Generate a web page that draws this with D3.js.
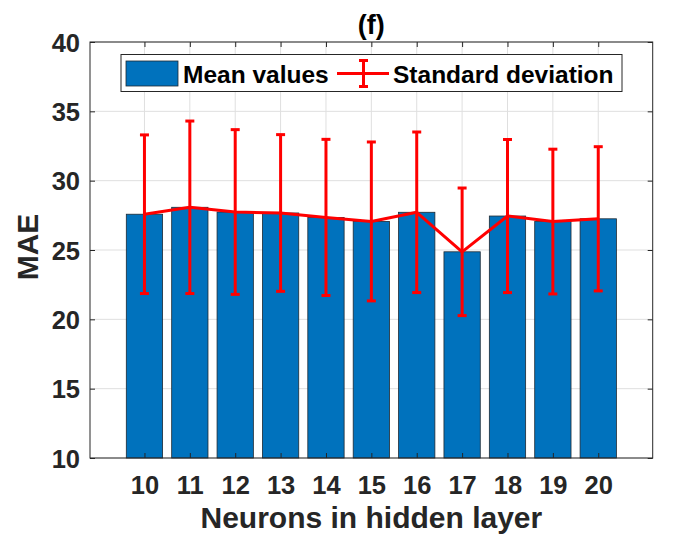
<!DOCTYPE html>
<html lang="en">
	<head>
		<meta charset="utf-8">
		<title>MAE vs neurons</title>
		<script type="text/javascript" src="https://cdn.jsdelivr.net/npm/d3@7"></script>
		<style type="text/css">
			body { margin: 0px; background: white; }
			text {
				font-family: "Liberation Sans", Arial, sans-serif;
				font-weight: bold;
			}
		</style>
	</head>
	<body>
		<div id="chart"></div>
		<script type="text/javascript">
			//Data
			var neurons = [10, 11, 12, 13, 14, 15, 16, 17, 18, 19, 20];
			var meanMAE = [27.58, 28.08, 27.74, 27.67, 27.35, 27.06, 27.72, 24.87, 27.45, 27.05, 27.25];
			var stdMAE  = [5.72, 6.22, 5.94, 5.65, 5.63, 5.73, 5.79, 4.60, 5.52, 5.22, 5.20];
			var yTicks  = [10, 15, 20, 25, 30, 35, 40];

			//Width and height
			var w = 675;
			var h = 544;
			//plot box (note: "top" is taken by window.top)
			var pLeft = 90, pRight = 652.7, pTop = 42, pBottom = 458;

			var svg = d3.select("#chart")
				.append("svg")
				.attr("width", w)
				.attr("height", h);

			var x = d3.scaleLinear().domain([8.8, 21.2]).range([pLeft, pRight]);
			var y = d3.scaleLinear().domain([10, 40]).range([pBottom, pTop]);
			var barW = x(0.8) - x(0);

			var axisColor = "#262626";

			//Grid
			var grid = svg.append("g").attr("class", "grid");
			grid.selectAll("line.gy")
				.data(yTicks)
				.enter()
				.append("line")
					.attr("x1", pLeft).attr("x2", pRight)
					.attr("y1", function(d) { return y(d); })
					.attr("y2", function(d) { return y(d); })
					.style("stroke", "#dfdfdf");
			grid.selectAll("line.gx")
				.data(neurons)
				.enter()
				.append("line")
					.attr("y1", pTop).attr("y2", pBottom)
					.attr("x1", function(d) { return x(d); })
					.attr("x2", function(d) { return x(d); })
					.style("stroke", "#dfdfdf");

			//Bars
			svg.selectAll("rect.bar")
				.data(neurons)
				.enter()
				.append("rect")
					.attr("class", "bar")
					.attr("x", function(d) { return x(d) - barW / 2; })
					.attr("width", barW)
					.attr("y", function(d, i) { return y(meanMAE[i]); })
					.attr("height", function(d, i) { return pBottom - y(meanMAE[i]); })
					.style("fill", "#0072BD")
					.style("stroke", "#1f2a33")
					.style("stroke-width", 0.8);

			//Axes (ticks pointing inward, on all sides)
			var yAxis = d3.axisLeft(y).tickValues(yTicks).tickSize(-5).tickPadding(10);
			var xAxis = d3.axisBottom(x).tickValues(neurons).tickSize(-5).tickPadding(18);

			var gy = svg.append("g")
				.attr("transform", "translate(" + pLeft + ",0)")
				.call(yAxis);
			var gx = svg.append("g")
				.attr("transform", "translate(0," + pBottom + ")")
				.call(xAxis);
			svg.append("g")
				.attr("transform", "translate(" + pRight + ",0)")
				.call(d3.axisRight(y).tickValues(yTicks).tickSize(-5).tickFormat(""));
			svg.append("g")
				.attr("transform", "translate(0," + pTop + ")")
				.call(d3.axisTop(x).tickValues(neurons).tickSize(-5).tickFormat(""));

			svg.selectAll(".domain").remove();
			svg.selectAll(".tick line").style("stroke", axisColor);
			svg.selectAll(".tick text")
				.style("font-size", "25.5px")
				.style("fill", axisColor);
			gy.selectAll(".tick text").attr("dy", "0.36em");

			//Box
			svg.append("rect")
				.attr("x", pLeft).attr("y", pTop)
				.attr("width", pRight - pLeft).attr("height", pBottom - pTop)
				.style("fill", "none")
				.style("stroke", axisColor)
				.style("stroke-width", 1);

			//Error bars and mean line
			var red = "#FF0000";
			var capW = 9;
			var line = d3.line()
				.x(function(d) { return x(d); })
				.y(function(d, i) { return y(meanMAE[i]); });

			var eb = svg.append("g").attr("class", "errorbars");
			eb.selectAll("line.v")
				.data(neurons)
				.enter()
				.append("line")
					.attr("x1", function(d) { return x(d); })
					.attr("x2", function(d) { return x(d); })
					.attr("y1", function(d, i) { return y(meanMAE[i] + stdMAE[i]); })
					.attr("y2", function(d, i) { return y(meanMAE[i] - stdMAE[i]); });
			eb.selectAll("line.top")
				.data(neurons)
				.enter()
				.append("line")
					.attr("x1", function(d) { return x(d) - capW / 2; })
					.attr("x2", function(d) { return x(d) + capW / 2; })
					.attr("y1", function(d, i) { return y(meanMAE[i] + stdMAE[i]); })
					.attr("y2", function(d, i) { return y(meanMAE[i] + stdMAE[i]); });
			eb.selectAll("line.bot")
				.data(neurons)
				.enter()
				.append("line")
					.attr("x1", function(d) { return x(d) - capW / 2; })
					.attr("x2", function(d) { return x(d) + capW / 2; })
					.attr("y1", function(d, i) { return y(meanMAE[i] - stdMAE[i]); })
					.attr("y2", function(d, i) { return y(meanMAE[i] - stdMAE[i]); });
			eb.selectAll("line")
				.style("stroke", red)
				.style("stroke-width", 3);

			svg.append("path")
				.datum(neurons)
				.attr("d", line)
				.style("fill", "none")
				.style("stroke", red)
				.style("stroke-width", 3)
				.style("stroke-linejoin", "round");

			//Legend
			var lg = svg.append("g").attr("class", "legend");
			lg.append("rect")
				.attr("x", 121).attr("y", 54.5)
				.attr("width", 501).attr("height", 37)
				.style("fill", "white")
				.style("stroke", axisColor)
				.style("stroke-width", 1);
			lg.append("rect")
				.attr("x", 126).attr("y", 61)
				.attr("width", 52).attr("height", 25)
				.style("fill", "#0072BD")
				.style("stroke", "#1f2a33")
				.style("stroke-width", 0.8);
			lg.append("text")
				.attr("x", 183).attr("y", 82.5)
				.style("font-size", "24.5px")
				.style("fill", "black")
				.text("Mean values");
			lg.append("line")
				.attr("x1", 337).attr("x2", 389)
				.attr("y1", 73.5).attr("y2", 73.5)
				.style("stroke", red).style("stroke-width", 3);
			lg.append("line")
				.attr("x1", 363.5).attr("x2", 363.5)
				.attr("y1", 60.5).attr("y2", 86.5)
				.style("stroke", red).style("stroke-width", 3);
			[60.5, 86.5].forEach(function(cy) {
				lg.append("line")
					.attr("x1", 363.5 - capW / 2).attr("x2", 363.5 + capW / 2)
					.attr("y1", cy).attr("y2", cy)
					.style("stroke", red).style("stroke-width", 3);
			});
			lg.append("text")
				.attr("x", 393).attr("y", 82.5)
				.style("font-size", "24.5px")
				.style("fill", "black")
				.text("Standard deviation");

			//Labels
			svg.append("text")
				.attr("x", (pLeft + pRight) / 2).attr("y", 34)
				.attr("text-anchor", "middle")
				.style("font-size", "27px")
				.style("fill", "black")
				.text("(f)");
			svg.append("text")
				.attr("x", (pLeft + pRight) / 2).attr("y", 528)
				.attr("text-anchor", "middle")
				.style("font-size", "30px")
				.style("fill", axisColor)
				.text("Neurons in hidden layer");
			svg.append("text")
				.attr("transform", "translate(38," + ((pTop + pBottom) / 2 - 3) + ") rotate(-90)")
				.attr("text-anchor", "middle")
				.style("font-size", "30px")
				.style("fill", axisColor)
				.text("MAE");
		</script>
	</body>
</html>
